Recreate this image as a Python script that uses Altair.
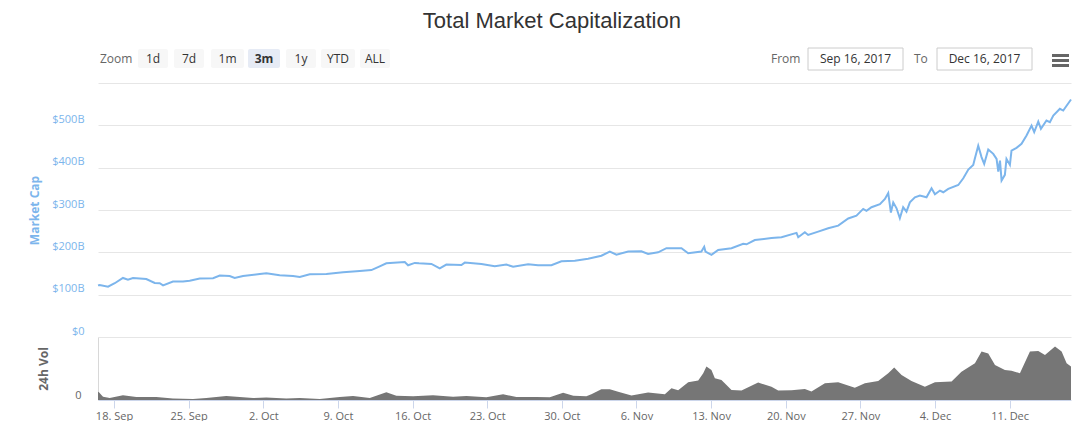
import altair as alt
import pandas as pd

START = pd.Timestamp("2017-09-16")

# ---- Market cap (billions USD), x as days since 16 Sep 2017 00:00 ----
mcap_day = [
    0.5, 0.66, 1.44, 2.07, 2.84, 3.31, 3.78, 5.03, 5.82, 6.29,
    6.60, 7.53, 8.47, 9.10, 10.04, 11.29, 11.92, 12.85, 13.32, 14.10,
    15.67, 16.29, 17.54, 18.79, 19.42, 20.36, 21.92, 23.48, 25.05, 26.14,
    26.92, 27.54, 29.27, 29.58, 30.21, 30.60, 31.77, 32.55, 33.17, 34.58,
    34.90, 36.46, 37.71, 38.80, 39.43, 40.84, 41.77, 43.02, 43.96, 45.22,
    46.46, 47.71, 48.50, 49.12, 50.22, 51.46, 52.09, 53.03, 53.81, 55.22,
    55.85, 57.09, 57.35, 57.47, 58.03, 58.66, 59.91, 61.01, 61.32, 62.10,
    63.66, 64.60, 66.01, 66.17, 66.79, 67.10, 68.04, 68.98, 69.92, 70.86,
    71.63, 72.26, 72.57, 73.04, 73.83, 74.30, 74.61, 74.86, 75.08, 75.39,
    75.70, 76.01, 76.32, 76.64, 77.11, 77.58, 78.20, 78.67, 78.99, 79.46,
    79.77, 80.24, 81.18, 81.65, 82.12, 82.58, 82.74, 83.05, 83.36, 83.61,
    83.99, 84.46, 84.77, 84.93, 85.09, 85.24, 85.55, 85.70, 86.02, 86.17,
    86.64, 87.11, 87.58, 88.05, 88.30, 88.68, 88.93, 89.45, 89.77, 90.09,
    90.71, 91.02, 91.75,
]
mcap_value = [
    122, 123, 119, 127, 139.5, 135.5, 139.5, 137, 127.7, 127,
    122, 131, 131, 133, 138, 139, 145, 144, 139.5, 144,
    149, 150.5, 146, 144, 142, 148, 149, 153, 156, 158,
    167, 174, 177, 169.5, 175, 174, 172.6, 162, 171, 170,
    175.7, 172.6, 167, 171, 166, 172, 169.5, 169.5, 179, 180,
    185, 192, 201.7, 194.6, 201.7, 202.6, 196, 200, 209.7, 209.7,
    198, 201.7, 213, 201.7, 194, 205.7, 209.7, 220, 219, 229,
    234, 235.6, 246, 235.6, 247.5, 241, 249, 257, 263, 280,
    286.8, 302.6, 298, 306.6, 313.7, 326, 340, 294, 318, 304,
    280.6, 306.6, 296, 318, 330, 334, 330, 351.5, 337, 345.9,
    342, 350, 359, 375, 395.5, 406.6, 422.5, 452, 425, 409,
    442.8, 432.6, 420.8, 390.8, 416.8, 369.5, 383, 420.8, 406.6, 440.4,
    446.8, 456.3, 476, 499.5, 484, 509, 491.7, 511.3, 507.6, 523,
    539, 535, 561,
]

# ---- 24h volume (billions USD) ----
vol_day = [
    0.5, 0.59, 0.97, 1.60, 2.84, 4.09, 5.97, 7.53, 9.41, 10.66,
    12.53, 13.79, 15.04, 16.29, 18.16, 19.42, 21.30, 23.17, 24.42, 25.99,
    27.54, 28.48, 30.05, 31.92, 33.80, 35.05, 36.92, 38.49, 39.74, 41.62,
    42.87, 44.12, 45.08, 46.30, 46.77, 47.71, 48.50, 49.28, 50.53, 52.09,
    53.66, 54.28, 54.91, 55.85, 56.79, 57.26, 57.56, 58.03, 58.35, 58.97,
    59.91, 60.85, 62.41, 63.66, 64.29, 65.54, 66.79, 67.41, 68.67, 69.92,
    71.48, 72.42, 73.67, 74.61, 75.17, 75.86, 76.79, 78.05, 78.99, 80.55,
    81.48, 82.74, 83.36, 83.99, 84.62, 85.55, 86.17, 86.96, 87.90, 88.68,
    89.31, 90.25, 90.87, 91.34, 91.75,
]
vol_value = [
    6.5, 6.1, 2.6, 1.6, 3.7, 2.4, 2.4, 1.1, 0.8, 1.6,
    3.2, 2.4, 1.6, 1.9, 1.1, 1.6, 0.8, 2.4, 3.2, 1.6,
    6.1, 3.4, 2.9, 3.7, 2.6, 3.2, 2.1, 4.5, 2.4, 2.4,
    2.1, 5.8, 3.4, 2.9, 4.5, 8.5, 8.5, 6.6, 3.5, 5.9,
    4.5, 9.3, 7.7, 14, 15.4, 21.2, 26.5, 23.8, 17.2, 15.9,
    7.9, 7.5, 13.8, 10.6, 7.5, 7.7, 8.7, 6.7, 13.3, 14,
    9.8, 13.3, 15.1, 21.2, 25.7, 19.8, 15.1, 10.6, 14, 14.6,
    22.5, 29.1, 38.4, 37, 27.8, 23.8, 23.3, 21.2, 38.4, 38.9,
    35.7, 42.4, 38.4, 29.1, 26.5,
]

# ---- axis ticks ----
week_ticks = ["2017-09-18", "2017-09-25", "2017-10-02", "2017-10-09", "2017-10-16",
              "2017-10-23", "2017-10-30", "2017-11-06", "2017-11-13", "2017-11-20",
              "2017-11-27", "2017-12-04", "2017-12-11"]
mcap_ticks = [0, 100, 200, 300, 400, 500, 600]

# ---- header UI texts ----
zoom_buttons = ["1d", "7d", "1m", "3m", "1y", "YTD", "ALL"]
selected_button = "3m"
from_date = "Sep 16, 2017"
to_date = "Dec 16, 2017"

PLOT_W = 973
LABEL_FONT = "Open Sans"

mcap_df = pd.DataFrame({"t": START + pd.to_timedelta(mcap_day, unit="D"), "v": mcap_value})
vol_df = pd.DataFrame({"t": START + pd.to_timedelta(vol_day, unit="D"), "v": vol_value})

def dt(s, hours=0):
    ts = pd.Timestamp(s)
    return alt.DateTime(year=ts.year, month=ts.month, date=ts.day, hours=hours)

x_domain = [dt("2017-09-16", 12), dt("2017-12-16", 18)]
tick_values = [dt(s) for s in week_ticks]

# ---------- header (range selector UI) ----------
btn_df = pd.DataFrame({
    "label": zoom_buttons,
    "x0": [40, 76, 113, 150, 188, 223, 262],
    "x1": [70, 106, 146, 182, 218, 257, 292],
})
btn_df["xc"] = (btn_df["x0"] + btn_df["x1"]) / 2
btn_df["sel"] = btn_df["label"] == selected_button

box_df = pd.DataFrame({
    "caption": ["From", "To"],
    "cx": [673, 816],
    "text": [from_date, to_date],
    "x0": [710, 839],
    "x1": [805, 934],
})
box_df["xc"] = (box_df["x0"] + box_df["x1"]) / 2

menu_df = pd.DataFrame({"y0": [15, 20, 25], "y1": [18, 23, 28], "x0": [954] * 3, "x1": [971] * 3})

hb = alt.Chart(btn_df)
btn_rect = hb.mark_rect(cornerRadius=2).encode(
    x=alt.X("x0:Q", scale=None), x2="x1:Q",
    y=alt.value(10), y2=alt.value(29),
    color=alt.condition("datum.sel", alt.value("#e6ebf5"), alt.value("#f7f7f7")),
)
btn_text = hb.mark_text(fontSize=12, font=LABEL_FONT, baseline="middle", color="#333333").encode(
    x=alt.X("xc:Q", scale=None), y=alt.value(19.5), text="label:N",
).transform_filter("!datum.sel")
btn_text_sel = hb.mark_text(fontSize=12, font=LABEL_FONT, baseline="middle", color="#333333",
                            fontWeight="bold").encode(
    x=alt.X("xc:Q", scale=None), y=alt.value(19.5), text="label:N",
).transform_filter("datum.sel")
zoom_text = alt.Chart(pd.DataFrame({"t": ["Zoom"]})).mark_text(
    fontSize=12, font=LABEL_FONT, align="left", baseline="middle", color="#666666"
).encode(x=alt.value(2), y=alt.value(19.5), text="t:N")

hbox = alt.Chart(box_df)
box_rect = hbox.mark_rect(fill="white", stroke="#cccccc", strokeWidth=1).encode(
    x=alt.X("x0:Q", scale=None), x2="x1:Q", y=alt.value(9), y2=alt.value(31)
)
box_text = hbox.mark_text(fontSize=12, font=LABEL_FONT, baseline="middle", color="#333333").encode(
    x=alt.X("xc:Q", scale=None), y=alt.value(20), text="text:N"
)
box_cap = hbox.mark_text(fontSize=12, font=LABEL_FONT, align="left", baseline="middle", color="#666666").encode(
    x=alt.X("cx:Q", scale=None), y=alt.value(19.5), text="caption:N"
)
menu = alt.Chart(menu_df).mark_rect(color="#666666").encode(
    x=alt.X("x0:Q", scale=None), x2="x1:Q",
    y=alt.Y("y0:Q", scale=None), y2="y1:Q",
)

header = alt.layer(btn_rect, btn_text, btn_text_sel, zoom_text, box_rect, box_text, box_cap, menu).properties(
    width=PLOT_W, height=44
)

# ---------- main market-cap panel ----------
main = alt.Chart(mcap_df).mark_line(color="#7cb5ec", strokeWidth=2).encode(
    x=alt.X("t:T", scale=alt.Scale(domain=x_domain), axis=None),
    y=alt.Y(
        "v:Q",
        scale=alt.Scale(domain=[0, 600], nice=False),
        axis=alt.Axis(
            values=mcap_ticks,
            labelExpr="datum.value >= 600 ? '' : (datum.value == 0 ? '$0' : '$' + datum.value + 'B')",
            grid=True, gridColor="#e6e6e6", domain=False, ticks=False,
            labelColor="#7cb5ec", labelFont=LABEL_FONT, labelFontSize=11,
            labelPadding=14, labelOffset=-6,
            title="Market Cap", titleColor="#7cb5ec", titleFont=LABEL_FONT,
            titleFontSize=12, titleFontWeight="bold", titlePadding=10,
        ),
    ),
).properties(width=PLOT_W, height=254)

# ---------- volume panel ----------
vol = alt.Chart(vol_df).mark_area(color="#767676", opacity=1).encode(
    x=alt.X(
        "t:T",
        scale=alt.Scale(domain=x_domain),
        axis=alt.Axis(
            values=tick_values, format="%-d. %b", title=None, grid=False,
            labelColor="#666666", labelFont=LABEL_FONT, labelFontSize=11,
            tickColor="#ccd6eb", tickSize=8, domainColor="#ccd6eb",
            labelPadding=2, labelFlush=False,
        ),
    ),
    y=alt.Y(
        "v:Q",
        scale=alt.Scale(domain=[0, 50], nice=False),
        axis=alt.Axis(
            values=[0], title="24h Vol", grid=False, ticks=False,
            domain=True, domainColor="#d8d8d8",
            labelColor="#666666", labelFont=LABEL_FONT, labelFontSize=11,
            labelPadding=17, labelOffset=-5,
            titleColor="#666666", titleFont=LABEL_FONT, titleFontSize=12,
            titleFontWeight="bold", titlePadding=24,
        ),
    ),
).properties(width=PLOT_W, height=63)

chart = alt.vconcat(header, main, vol, spacing=0).properties(
    title=alt.TitleParams(
        "Total Market Capitalization", fontSize=22, font="Liberation Sans",
        fontWeight="normal", color="#333333", anchor="middle", offset=6,
    ),
    padding={"left": 20, "top": 2, "right": 0, "bottom": 0},
).configure_view(stroke=None).configure_axis(labelFont=LABEL_FONT)

chart.save("out.html", embed_options={"renderer": "svg", "actions": False})
